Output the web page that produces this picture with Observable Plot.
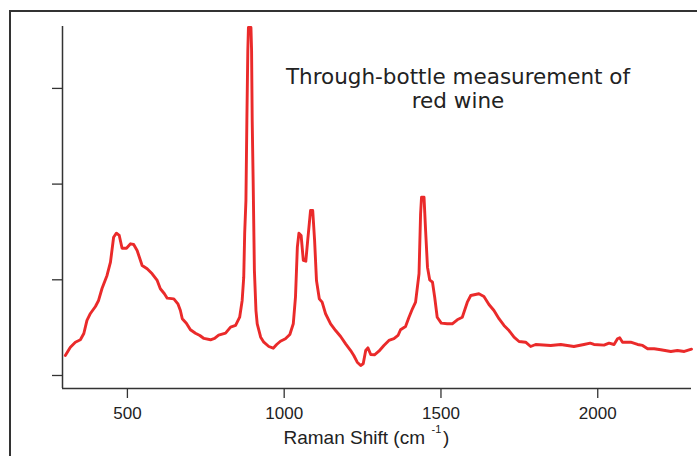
<!DOCTYPE html>
<html>
<head>
<meta charset="utf-8">
<script src="https://cdn.jsdelivr.net/npm/d3@7"></script>
<script src="https://cdn.jsdelivr.net/npm/@observablehq/plot@0.6"></script>
<style>
  html, body { margin: 0; padding: 0; background: #fff; overflow: hidden; }
  #wrap { position: relative; width: 697px; height: 456px; overflow: hidden; }
  #border { position: absolute; left: 9px; top: 9.5px; width: 900px; height: 700px; border: 2.5px solid #333; box-sizing: border-box; }
  #chart { position: absolute; left: 0; top: 0; }
</style>
</head>
<body>
<div id="wrap"><div id="border"></div><div id="chart"></div></div>
<script>
// Raman shift (cm^-1)
const shift = [302,318,334,350,361,371,382,398,408,419,435,446,456,465,474,483,497,510,520,531,547,563,579,595,605,618,627,648,661,669,675,688,701,717,731,744,765,778,791,813,829,845,858,866,871,874,878,881,884,886,894,896,898,901,905,910,914,925,935,951,965,976,988,1004,1018,1029,1036,1042,1047,1054,1061,1069,1075,1084,1091,1097,1103,1112,1121,1132,1148,1164,1180,1196,1212,1222,1233,1244,1252,1260,1267,1276,1288,1302,1318,1334,1350,1363,1371,1387,1398,1409,1419,1430,1435,1438,1446,1451,1457,1464,1473,1480,1488,1501,1520,1536,1552,1568,1584,1595,1621,1637,1653,1669,1685,1701,1717,1733,1749,1770,1786,1802,1850,1882,1924,1956,1976,1988,2020,2036,2052,2063,2070,2079,2105,2127,2143,2159,2180,2201,2233,2254,2276,2299];
// Intensity (arbitrary units)
const intensity = [209,296,348,373,439,575,648,721,784,909,1045,1184,1445,1487,1463,1330,1330,1376,1369,1306,1149,1115,1063,993,906,854,808,801,749,679,593,547,478,442,418,387,373,387,421,442,505,523,609,784,1027,1484,1829,2665,3396,3636,3636,3396,2665,2038,1097,679,540,400,348,303,285,324,358,384,428,540,818,1341,1487,1463,1202,1194,1411,1724,1724,1411,993,801,766,645,540,470,408,331,261,209,139,105,122,261,289,219,216,254,314,366,384,418,478,512,609,697,766,1063,1690,1863,1863,1515,1132,1000,975,818,609,547,540,540,582,609,766,836,854,826,742,679,593,523,470,400,355,348,303,324,314,324,303,324,338,324,317,338,324,384,394,348,348,324,314,279,279,269,251,261,251,275];
const xTicks = [500, 1000, 1500, 2000];
const yTicks = [0, 1000, 2000, 3000];
const xDomain = [293, 2299];
const yDomain = [-136, 3647];
const titleText = "Through-bottle measurement of\nred wine";
const xLabelMain = "Raman Shift (cm";
const xLabelSup = "-1";
const xLabelEnd = ")";

const data = shift.map((s, i) => ({shift: s, intensity: intensity[i]}));
const axisColor = "#333";

const chart = Plot.plot({
  width: 697,
  height: 456,
  marginLeft: 62,
  marginRight: 6,
  marginTop: 26,
  marginBottom: 68,
  style: {fontFamily: "'Liberation Sans', Arial, sans-serif", fontSize: "17px", color: axisColor, background: "transparent", overflow: "visible"},
  x: {domain: xDomain},
  y: {domain: yDomain},
  marks: [
    Plot.axisX({ticks: xTicks, tickSize: 10, tickPadding: 8, tickFormat: d => String(d), label: null, stroke: axisColor, strokeWidth: 1.3, fill: "#222", fontSize: 17}),
    Plot.axisY({ticks: yTicks, tickSize: 10, tickFormat: () => "", label: null, stroke: axisColor, strokeWidth: 1.3}),
    Plot.ruleY([yDomain[0]], {stroke: axisColor, strokeWidth: 1.5}),
    Plot.ruleX([xDomain[0]], {stroke: axisColor, strokeWidth: 1.5}),
    Plot.line(data, {x: "shift", y: "intensity", stroke: "#ea2a2a", strokeWidth: 2.9, strokeLinejoin: "round", strokeLinecap: "round"}),
    Plot.text([titleText], {text: d => d, frameAnchor: "top-left", dx: 395.5, dy: 40, textAnchor: "middle", lineAnchor: "top", lineHeight: 1.12, fontFamily: "'DejaVu Sans', Verdana, sans-serif", fontSize: 21.5, fill: "#222"}),
    Plot.text([xLabelMain], {text: d => d, frameAnchor: "bottom-left", dx: 221, dy: 55, textAnchor: "start", lineAnchor: "bottom", fontSize: 19, fill: "#222"}),
    Plot.text([xLabelSup], {text: d => d, frameAnchor: "bottom-left", dx: 369, dy: 44, textAnchor: "start", lineAnchor: "bottom", fontSize: 11, fill: "#222"}),
    Plot.text([xLabelEnd], {text: d => d, frameAnchor: "bottom-left", dx: 380.5, dy: 55, textAnchor: "start", lineAnchor: "bottom", fontSize: 19, fill: "#222"})
  ]
});
document.getElementById("chart").appendChild(chart);
</script>
</body>
</html>
